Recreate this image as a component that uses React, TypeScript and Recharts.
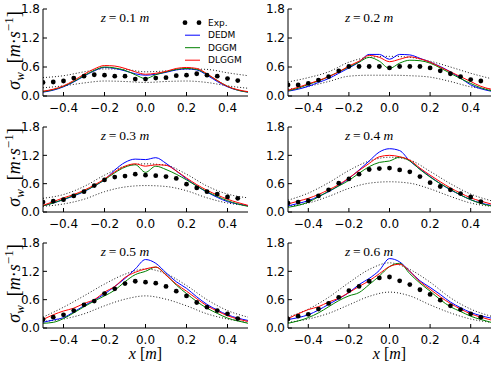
import React from 'react';
import { ComposedChart, Line, XAxis, YAxis } from 'recharts';

// Sampling positions (m)
const xModel = [-0.5, -0.45, -0.4, -0.35, -0.3, -0.25, -0.2, -0.15, -0.1, -0.05, 0, 0.05, 0.1, 0.15, 0.2, 0.25, 0.3, 0.35, 0.4, 0.45, 0.5];
const xExp = [-0.5, -0.45, -0.4, -0.35, -0.3, -0.25, -0.2, -0.15, -0.1, -0.05, 0, 0.05, 0.1, 0.15, 0.2, 0.25, 0.3, 0.35, 0.4, 0.45];
const xBand = [-0.5, -0.4, -0.3, -0.2, -0.1, 0, 0.1, 0.2, 0.3, 0.4, 0.5];

const xTicks = [-0.4, -0.2, 0, 0.2, 0.4];
const yTicks = [0, 0.6, 1.2, 1.8];
const heights = ['0.1', '0.2', '0.3', '0.4', '0.5', '0.6'];

// z = 0.1 m
const exp01 = [0.28, 0.29, 0.31, 0.37, 0.41, 0.44, 0.43, 0.41, 0.41, 0.35, 0.35, 0.37, 0.38, 0.42, 0.43, 0.46, 0.43, 0.41, 0.36, 0.32];
const dedm01 = [0.08, 0.12, 0.19, 0.29, 0.41, 0.52, 0.59, 0.57, 0.52, 0.46, 0.43, 0.45, 0.49, 0.54, 0.56, 0.54, 0.43, 0.30, 0.19, 0.12, 0.08];
const dggm01 = [0.09, 0.13, 0.20, 0.30, 0.42, 0.53, 0.60, 0.58, 0.53, 0.44, 0.36, 0.44, 0.50, 0.55, 0.57, 0.55, 0.45, 0.32, 0.20, 0.12, 0.08];
const dlggm01 = [0.10, 0.14, 0.21, 0.32, 0.45, 0.56, 0.63, 0.62, 0.57, 0.50, 0.45, 0.47, 0.51, 0.57, 0.59, 0.57, 0.46, 0.32, 0.20, 0.13, 0.09];
const upper01 = [0.38, 0.42, 0.50, 0.56, 0.55, 0.50, 0.52, 0.56, 0.55, 0.48, 0.42];
const lower01 = [0.17, 0.21, 0.27, 0.31, 0.30, 0.28, 0.30, 0.31, 0.28, 0.21, 0.16];

// z = 0.2 m
const exp02 = [0.23, 0.23, 0.26, 0.33, 0.40, 0.52, 0.61, 0.61, 0.61, 0.61, 0.58, 0.61, 0.61, 0.61, 0.58, 0.52, 0.46, 0.40, 0.34, 0.31];
const dedm02 = [0.10, 0.14, 0.20, 0.28, 0.36, 0.47, 0.58, 0.70, 0.86, 0.86, 0.76, 0.86, 0.85, 0.78, 0.70, 0.61, 0.50, 0.37, 0.23, 0.15, 0.10];
const dggm02 = [0.11, 0.16, 0.24, 0.31, 0.40, 0.50, 0.60, 0.70, 0.80, 0.72, 0.57, 0.68, 0.74, 0.73, 0.68, 0.58, 0.47, 0.36, 0.26, 0.17, 0.11];
const dlggm02 = [0.12, 0.18, 0.25, 0.32, 0.40, 0.50, 0.62, 0.72, 0.84, 0.80, 0.71, 0.76, 0.81, 0.77, 0.70, 0.60, 0.50, 0.40, 0.30, 0.20, 0.14];
const upper02 = [0.29, 0.38, 0.50, 0.70, 0.80, 0.82, 0.80, 0.72, 0.60, 0.47, 0.36];
const lower02 = [0.14, 0.20, 0.30, 0.41, 0.43, 0.43, 0.42, 0.39, 0.30, 0.19, 0.14];

// z = 0.3 m
const exp03 = [0.21, 0.23, 0.26, 0.34, 0.43, 0.56, 0.68, 0.74, 0.76, 0.80, 0.78, 0.77, 0.75, 0.71, 0.59, 0.51, 0.43, 0.38, 0.32, 0.29];
const dedm03 = [0.13, 0.19, 0.26, 0.34, 0.43, 0.55, 0.68, 0.89, 1.05, 1.12, 1.11, 1.15, 1.03, 0.87, 0.70, 0.55, 0.42, 0.31, 0.22, 0.17, 0.13];
const dggm03 = [0.13, 0.19, 0.27, 0.35, 0.44, 0.55, 0.68, 0.83, 0.95, 1.00, 0.84, 0.97, 0.90, 0.80, 0.68, 0.55, 0.43, 0.33, 0.24, 0.17, 0.12];
const dlggm03 = [0.14, 0.22, 0.30, 0.37, 0.46, 0.57, 0.70, 0.85, 0.97, 1.02, 0.97, 1.00, 0.99, 0.87, 0.72, 0.58, 0.46, 0.36, 0.27, 0.20, 0.14];
const upper03 = [0.29, 0.37, 0.54, 0.78, 0.97, 1.02, 0.99, 0.80, 0.55, 0.38, 0.30];
const lower03 = [0.12, 0.17, 0.27, 0.43, 0.53, 0.56, 0.54, 0.45, 0.30, 0.19, 0.14];

// z = 0.4 m
const exp04 = [0.19, 0.21, 0.24, 0.34, 0.47, 0.61, 0.70, 0.80, 0.90, 0.92, 0.93, 0.89, 0.85, 0.75, 0.62, 0.54, 0.47, 0.39, 0.32, 0.22];
const dedm04 = [0.13, 0.18, 0.24, 0.33, 0.43, 0.56, 0.71, 0.89, 1.08, 1.27, 1.34, 1.30, 1.08, 0.91, 0.75, 0.60, 0.47, 0.36, 0.26, 0.19, 0.14];
const dggm04 = [0.10, 0.14, 0.21, 0.32, 0.44, 0.55, 0.67, 0.82, 0.96, 1.05, 1.08, 1.16, 1.08, 0.90, 0.74, 0.60, 0.48, 0.36, 0.26, 0.18, 0.13];
const dlggm04 = [0.17, 0.23, 0.29, 0.37, 0.47, 0.58, 0.72, 0.88, 1.03, 1.17, 1.20, 1.17, 1.10, 0.93, 0.78, 0.64, 0.51, 0.40, 0.30, 0.23, 0.17];
const upper04 = [0.25, 0.40, 0.62, 0.88, 1.08, 1.16, 1.10, 0.86, 0.60, 0.38, 0.24];
const lower04 = [0.12, 0.19, 0.33, 0.50, 0.61, 0.64, 0.61, 0.49, 0.33, 0.19, 0.12];

// z = 0.5 m
const exp05 = [0.18, 0.23, 0.28, 0.37, 0.49, 0.57, 0.73, 0.83, 0.94, 0.99, 0.97, 0.95, 0.88, 0.78, 0.68, 0.54, 0.44, 0.37, 0.30, 0.20];
const dedm05 = [0.12, 0.17, 0.22, 0.34, 0.47, 0.59, 0.72, 0.88, 1.05, 1.25, 1.45, 1.37, 1.17, 0.98, 0.84, 0.66, 0.50, 0.38, 0.28, 0.21, 0.16];
const dggm05 = [0.10, 0.12, 0.20, 0.32, 0.45, 0.57, 0.68, 0.80, 0.98, 1.13, 1.20, 1.29, 1.13, 0.91, 0.73, 0.56, 0.42, 0.31, 0.21, 0.15, 0.10];
const dlggm05 = [0.18, 0.28, 0.36, 0.42, 0.52, 0.60, 0.76, 0.88, 1.07, 1.18, 1.25, 1.29, 1.12, 0.93, 0.78, 0.62, 0.47, 0.36, 0.26, 0.19, 0.14];
const upper05 = [0.23, 0.44, 0.68, 0.93, 1.14, 1.25, 1.15, 0.90, 0.60, 0.37, 0.23];
const lower05 = [0.14, 0.19, 0.30, 0.47, 0.61, 0.68, 0.61, 0.47, 0.30, 0.19, 0.12];

// z = 0.6 m
const exp06 = [0.19, 0.25, 0.29, 0.40, 0.52, 0.65, 0.79, 0.88, 0.99, 1.06, 1.08, 1.00, 0.92, 0.81, 0.71, 0.59, 0.47, 0.39, 0.30, 0.23];
const dedm06 = [0.18, 0.22, 0.28, 0.38, 0.50, 0.62, 0.75, 0.92, 1.05, 1.22, 1.47, 1.40, 1.20, 1.00, 0.86, 0.71, 0.55, 0.43, 0.33, 0.26, 0.21];
const dggm06 = [0.10, 0.15, 0.22, 0.32, 0.45, 0.58, 0.68, 0.75, 0.92, 1.10, 1.30, 1.37, 1.15, 0.95, 0.78, 0.60, 0.45, 0.35, 0.25, 0.18, 0.12];
const dlggm06 = [0.20, 0.30, 0.39, 0.45, 0.55, 0.63, 0.75, 0.88, 1.00, 1.15, 1.30, 1.35, 1.20, 0.98, 0.82, 0.66, 0.52, 0.40, 0.30, 0.23, 0.17];
const upper06 = [0.23, 0.40, 0.65, 0.96, 1.24, 1.38, 1.24, 0.97, 0.64, 0.40, 0.25];
const lower06 = [0.12, 0.19, 0.31, 0.49, 0.67, 0.76, 0.68, 0.49, 0.32, 0.19, 0.12];

const BLUE = '#0000ff';
const GREEN = '#008000';
const RED = '#ff0000';
const TICK_FONT = '"DejaVu Sans", sans-serif';
const MATH_FONT = '"Liberation Serif", "DejaVu Serif", serif';

// Plot-area geometry (page pixels)
const colLeft = [43, 288];
const colWidth = [205, 203];
const rowTop = [9, 127, 243];
const rowHeight = [87, 85, 85];

const M_LEFT = 40;
const M_RIGHT = 5;
const M_TOP = 10;
const M_BOTTOM = 22;
const TICK_LEN = 4;
const Y_LABEL_GAP = 3;

const fmt = (v: number) => v.toFixed(1).replace('-', '\u2212');

// Inward tick marks, matplotlib style; labels drawn beside them
const LeftTick = (props: any) => {
  const { x, y, payload } = props;
  const ax = x + Y_LABEL_GAP;
  return (
    <g>
      <line x1={ax} x2={ax + TICK_LEN} y1={y} y2={y} stroke="#000" strokeWidth={1} />
      <text x={x} y={y} dy="0.36em" textAnchor="end" fill="#000" fontSize={12} fontFamily={TICK_FONT}>
        {fmt(payload.value)}
      </text>
    </g>
  );
};

const BottomTick = (props: any) => {
  const { x, y, payload } = props;
  return (
    <g>
      <line x1={x} x2={x} y1={y} y2={y - TICK_LEN} stroke="#000" strokeWidth={1} />
      <text x={x} y={y + 15.5} textAnchor="middle" fill="#000" fontSize={12} fontFamily={TICK_FONT}>
        {fmt(payload.value)}
      </text>
    </g>
  );
};

const TopTick = (props: any) => {
  const { x, y } = props;
  return <line x1={x} x2={x} y1={y} y2={y + TICK_LEN} stroke="#000" strokeWidth={1} />;
};

const RightTick = (props: any) => {
  const { x, y } = props;
  return <line x1={x} x2={x - TICK_LEN} y1={y} y2={y} stroke="#000" strokeWidth={1} />;
};

type PanelProps = {
  col: number;
  row: number;
  exp: number[];
  dedm: number[];
  dggm: number[];
  dlggm: number[];
  upper: number[];
  lower: number[];
};

function Panel({ col, row, exp, dedm, dggm, dlggm, upper, lower }: PanelProps) {
  const plotW = colWidth[col];
  const plotH = rowHeight[row];
  const width = M_LEFT + plotW + M_RIGHT;
  const height = M_TOP + plotH + M_BOTTOM;
  const modelRows = xModel.map((x, i) => ({ x, dedm: dedm[i], dggm: dggm[i], dlggm: dlggm[i] }));
  const expRows = xExp.map((x, i) => ({ x, exp: exp[i] }));
  const bandRows = xBand.map((x, i) => ({ x, upper: upper[i], lower: lower[i] }));
  const common = { xAxisId: 'b', yAxisId: 'l', isAnimationActive: false, activeDot: false } as const;

  return (
    <div style={{ position: 'absolute', left: colLeft[col] - M_LEFT, top: rowTop[row] - M_TOP }}>
      <ComposedChart width={width} height={height} margin={{ top: M_TOP, right: M_RIGHT, bottom: 0, left: 0 }}>
        <XAxis
          xAxisId="b"
          dataKey="x"
          type="number"
          domain={[-0.5, 0.5]}
          allowDataOverflow
          ticks={xTicks}
          interval={0}
          height={M_BOTTOM}
          stroke="#000"
          tickLine={false}
          tickSize={0}
          tickMargin={0}
          tick={<BottomTick />}
        />
        <XAxis
          xAxisId="t"
          orientation="top"
          dataKey="x"
          type="number"
          domain={[-0.5, 0.5]}
          allowDataOverflow
          ticks={xTicks}
          interval={0}
          height={0}
          stroke="#000"
          tickLine={false}
          tickSize={0}
          tickMargin={0}
          tick={<TopTick />}
        />
        <YAxis
          yAxisId="l"
          type="number"
          domain={[0, 1.8]}
          allowDataOverflow
          ticks={yTicks}
          interval={0}
          width={M_LEFT}
          stroke="#000"
          tickLine={false}
          tickSize={0}
          tickMargin={Y_LABEL_GAP}
          tick={<LeftTick />}
        />
        <YAxis
          yAxisId="r"
          orientation="right"
          type="number"
          domain={[0, 1.8]}
          allowDataOverflow
          ticks={yTicks}
          interval={0}
          width={0}
          stroke="#000"
          tickLine={false}
          tickSize={0}
          tickMargin={0}
          tick={<RightTick />}
        />
        <Line {...common} data={bandRows} dataKey="upper" type="monotone" stroke="#000" strokeWidth={0.9} strokeDasharray="1 2" dot={false} />
        <Line {...common} data={bandRows} dataKey="lower" type="monotone" stroke="#000" strokeWidth={0.9} strokeDasharray="1 2" dot={false} />
        <Line {...common} data={expRows} dataKey="exp" stroke="none" dot={{ r: 2.4, fill: '#000', stroke: '#000', strokeWidth: 0 }} />
        <Line {...common} data={modelRows} dataKey="dedm" type="monotone" stroke={BLUE} strokeWidth={1} dot={false} />
        <Line {...common} data={modelRows} dataKey="dggm" type="monotone" stroke={GREEN} strokeWidth={1} dot={false} />
        <Line {...common} data={modelRows} dataKey="dlggm" type="monotone" stroke={RED} strokeWidth={1} dot={false} />
      </ComposedChart>
    </div>
  );
}

const panelSeries = [
  { exp: exp01, dedm: dedm01, dggm: dggm01, dlggm: dlggm01, upper: upper01, lower: lower01 },
  { exp: exp02, dedm: dedm02, dggm: dggm02, dlggm: dlggm02, upper: upper02, lower: lower02 },
  { exp: exp03, dedm: dedm03, dggm: dggm03, dlggm: dlggm03, upper: upper03, lower: lower03 },
  { exp: exp04, dedm: dedm04, dggm: dggm04, dlggm: dlggm04, upper: upper04, lower: lower04 },
  { exp: exp05, dedm: dedm05, dggm: dggm05, dlggm: dlggm05, upper: upper05, lower: lower05 },
  { exp: exp06, dedm: dedm06, dggm: dggm06, dlggm: dlggm06, upper: upper06, lower: lower06 },
];

const legendItems = [
  { label: 'Exp.', kind: 'dots', color: '#000' },
  { label: 'DEDM', kind: 'line', color: BLUE },
  { label: 'DGGM', kind: 'line', color: GREEN },
  { label: 'DLGGM', kind: 'line', color: RED },
];

function YLabel({ cy }: { cy: number }) {
  return (
    <text transform={`translate(20, ${cy}) rotate(-90)`} textAnchor="middle" fontFamily={MATH_FONT} fontSize={18} fill="#000">
      <tspan fontStyle="italic">σ</tspan>
      <tspan fontStyle="italic" fontSize={13} dy={4}>w</tspan>
      <tspan dy={-4}>{'\u2002['}</tspan>
      <tspan fontStyle="italic">m</tspan>
      <tspan>·</tspan>
      <tspan fontStyle="italic">s</tspan>
      <tspan fontSize={13} dy={-7}>−1</tspan>
      <tspan dy={7}>]</tspan>
    </text>
  );
}

function XLabel({ cx }: { cx: number }) {
  return (
    <text x={cx} y={359} textAnchor="middle" fontFamily={MATH_FONT} fontSize={16} fill="#000">
      <tspan fontStyle="italic">x</tspan>
      <tspan>{' ['}</tspan>
      <tspan fontStyle="italic">m</tspan>
      <tspan>]</tspan>
    </text>
  );
}

function Annotations() {
  return (
    <svg width={494} height={366} style={{ position: 'absolute', left: 0, top: 0, pointerEvents: 'none' }}>
      {heights.map((h, i) => {
        const col = i % 2;
        const row = Math.floor(i / 2);
        const cx = colLeft[col] + 0.4 * colWidth[col];
        const base = rowTop[row] + 13;
        return (
          <text key={h} x={cx} y={base} textAnchor="middle" fontFamily={MATH_FONT} fontSize={13.5} fill="#000">
            <tspan fontStyle="italic">z</tspan>
            <tspan>{'\u2009=\u2009' + h + ' '}</tspan>
            <tspan fontStyle="italic">m</tspan>
          </text>
        );
      })}
      {rowTop.map((t, r) => (
        <YLabel key={r} cy={t + rowHeight[r] / 2 - 2} />
      ))}
      {colLeft.map((l, c) => (
        <XLabel key={c} cx={l + colWidth[c] / 2} />
      ))}
      {legendItems.map((item, i) => {
        const y = 22.7 + i * 12.5;
        return (
          <g key={item.label}>
            {item.kind === 'dots' ? (
              <>
                <circle cx={185} cy={y} r={2.4} fill={item.color} />
                <circle cx={199} cy={y} r={2.4} fill={item.color} />
              </>
            ) : (
              <line x1={185} x2={200} y1={y} y2={y} stroke={item.color} strokeWidth={1} />
            )}
            <text x={208} y={y + 3.2} fontFamily={TICK_FONT} fontSize={9} fill="#000">
              {item.label}
            </text>
          </g>
        );
      })}
    </svg>
  );
}

export default function App() {
  return (
    <div style={{ position: 'absolute', left: 0, top: 0, width: 494, height: 366, background: '#fff', overflow: 'hidden' }}>
      {panelSeries.map((s, i) => (
        <Panel key={i} col={i % 2} row={Math.floor(i / 2)} {...s} />
      ))}
      <Annotations />
    </div>
  );
}
